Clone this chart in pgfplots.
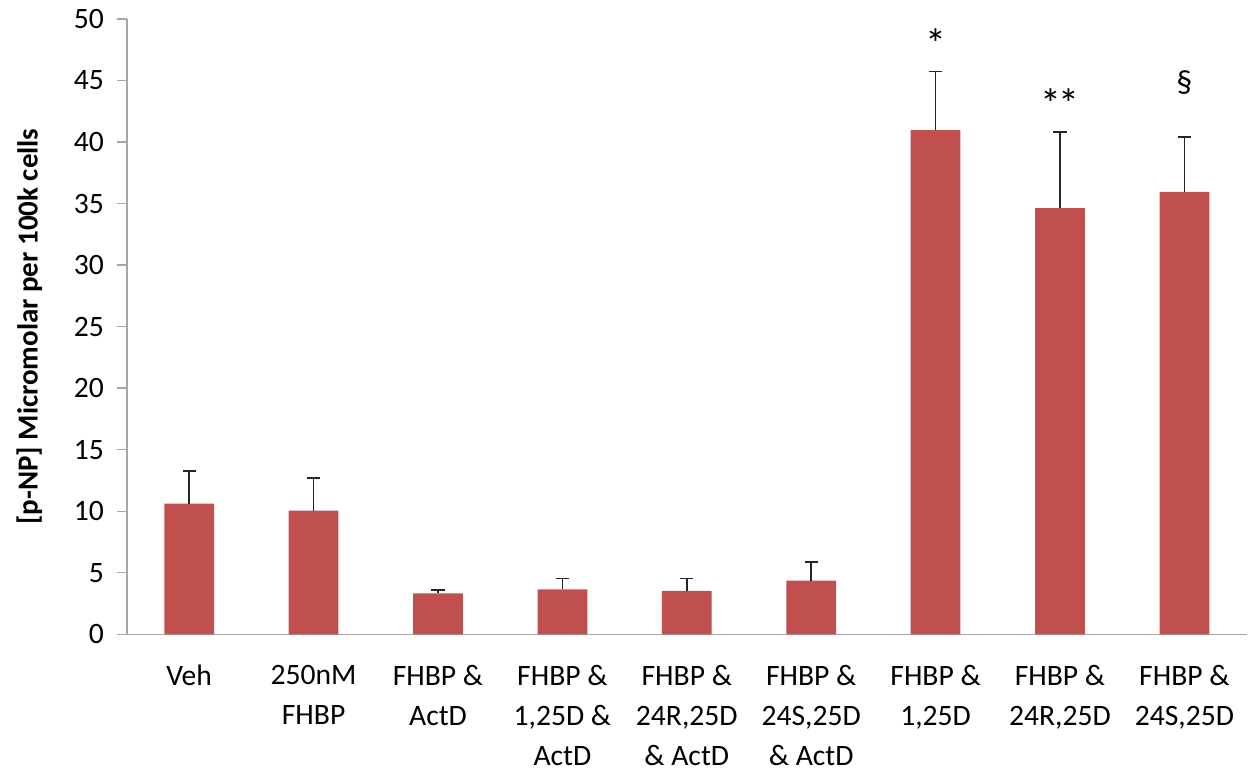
\documentclass[border=0pt]{standalone}
\usepackage{pgfplots}
\pgfplotsset{compat=1.18}
\usepackage{fontspec}
\setmainfont{Carlito}
\definecolor{barred}{HTML}{C0504D}
\definecolor{axisgray}{HTML}{A6A6A6}

\begin{document}
\begin{tikzpicture}
\begin{axis}[
  scale only axis,
  width=559.8pt, height=307.7pt,
  xmin=-0.5, xmax=8.5,
  ymin=0, ymax=50,
  ytick={0,5,...,50},
  xtick={0,...,8},
  xticklabels={
    {Veh},
    {250nM\\FHBP},
    {FHBP \&\\ActD},
    {FHBP \&\\1,25D \&\\ActD},
    {FHBP \&\\24R,25D\\\& ActD},
    {FHBP \&\\24S,25D\\\& ActD},
    {FHBP \&\\1,25D},
    {FHBP \&\\24R,25D},
    {FHBP \&\\24S,25D}},
  axis x line*=bottom,
  axis y line*=left,
  axis line style={axisgray, line width=0.7pt},
  ytick style={axisgray, line width=0.7pt},
  x tick style={draw=none},
  tick align=outside,
  major tick length=5pt,
  /pgf/number format/assume math mode=true,
  tick label style={font=\fontsize{14.8}{20}\selectfont, text=black},
  yticklabel style={xshift=-3pt},
  xticklabel style={align=center, anchor=north, yshift=-7pt},
  ylabel={\textbf{[p-NP] Micromolar per 100k cells}},
  ylabel style={font=\fontsize{14.5}{18}\selectfont, yshift=9pt},
  bar width=0.4,
  clip=false,
]
\addplot[ybar, fill=barred, draw=none,
  error bars/.cd, y dir=plus, y explicit,
  error bar style={black!85, line width=0.8pt},
  error mark options={rotate=90, mark size=3.3pt, line width=0.8pt, black!85}]
  table[x=x, y=y, y error=e] {
  x y     e
  0 10.61 2.66
  1 10.04 2.68
  2 3.33  0.27
  3 3.65  0.87
  4 3.52  1.00
  5 4.36  1.51
  6 40.96 4.77
  7 34.63 6.17
  8 35.95 4.47
};
\node[font=\fontsize{21}{24}\selectfont] at (axis cs:6,48.0) {*};
\node[font=\fontsize{21}{24}\selectfont] at (axis cs:7,43.1) {*\kern-1.5pt*};
\node[font=\fontsize{16}{18}\selectfont] at (axis cs:8,44.8) {§};
\end{axis}
\pgfresetboundingbox
\path[use as bounding box] (-63.5pt,-69.85pt) rectangle (563pt,317.15pt);
\end{tikzpicture}
\end{document}
